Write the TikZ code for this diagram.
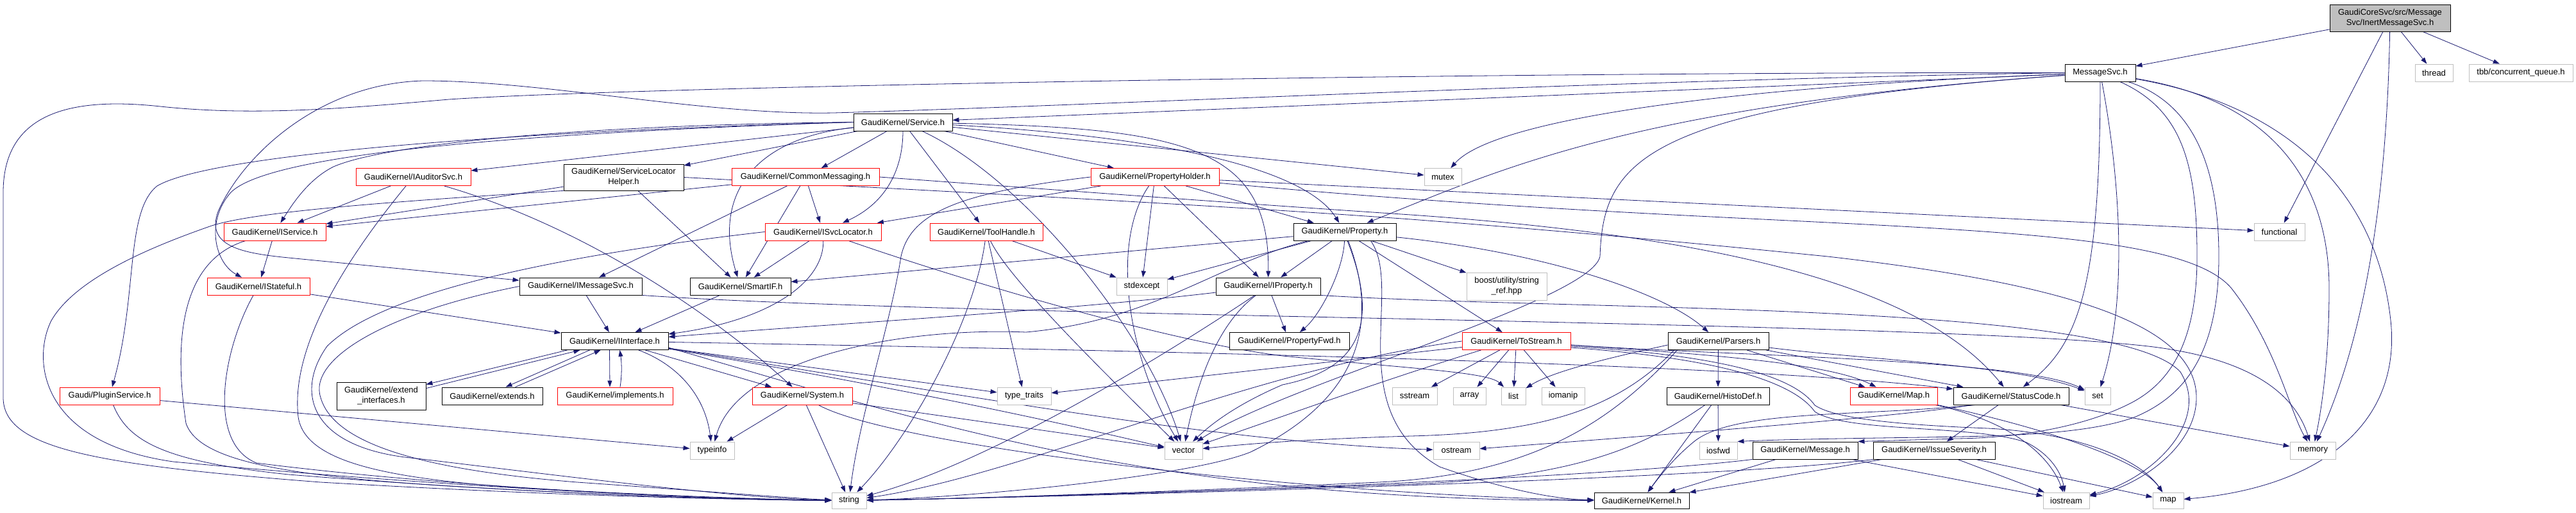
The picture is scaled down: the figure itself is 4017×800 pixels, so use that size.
\documentclass[tikz,border=0pt]{standalone}
\usepackage{fontspec}
\setmainfont{Liberation Sans}
\usetikzlibrary{arrows.meta}
\pgfdeclarelayer{bottom}
\pgfdeclarelayer{background}
\pgfsetlayers{bottom,background,main}
\definecolor{edgec}{HTML}{191970}
\definecolor{grayb}{HTML}{BFBFBF}
\definecolor{redb}{HTML}{FF0000}
\begin{document}
\begin{tikzpicture}[x=1pt,y=-1pt,
  nb/.style={fill=white, line width=0.9pt, inner sep=0pt, font=\fontsize{13}{16}\selectfont, align=center, minimum height=27pt},
  kbox/.style={nb, draw=black},
  rbox/.style={nb, draw=redb},
  gbox/.style={nb, draw=grayb},
  rootb/.style={nb, draw=black, fill=grayb},
  dep/.style={draw=edgec, line width=0.8pt, -{Triangle[length=10pt,width=7pt]}}
]
\useasboundingbox (0,0) rectangle (4017,800);
\begin{pgfonlayer}{bottom}
\fill[white] (0,0) rectangle (4017,800);
\end{pgfonlayer}

% ---------------- nodes ----------------
\node[rootb, minimum width=188pt, minimum height=42pt] (root) at (3727,28) {GaudiCoreSvc/src/Message\\Svc/InertMessageSvc.h};
\node[kbox, minimum width=110pt] (msvc) at (3275,113.5) {MessageSvc.h};
\node[gbox, minimum width=59pt] (thread) at (3795.5,113.5) {thread};
\node[gbox, minimum width=162pt] (tbb) at (3931,113.5) {tbb/concurrent\_queue.h};
\node[kbox, minimum width=154pt] (service) at (1408,190.5) {GaudiKernel/Service.h};
\node[rbox, minimum width=179pt] (iauditor) at (644.5,276) {GaudiKernel/IAuditorSvc.h};
\node[kbox, minimum width=187pt, minimum height=41pt] (slh) at (972.5,276.5) {GaudiKernel/ServiceLocator\\Helper.h};
\node[rbox, minimum width=230pt] (commsg) at (1256,276) {GaudiKernel/CommonMessaging.h};
\node[rbox, minimum width=200pt] (pholder) at (1801,276) {GaudiKernel/PropertyHolder.h};
\node[gbox, minimum width=58pt] (mutex) at (2250,276) {mutex};
\node[rbox, minimum width=159pt] (iservice) at (428.5,361.5) {GaudiKernel/IService.h};
\node[rbox, minimum width=181pt] (isvcloc) at (1283.5,361.5) {GaudiKernel/ISvcLocator.h};
\node[rbox, minimum width=176pt] (toolhandle) at (1538,361.5) {GaudiKernel/ToolHandle.h};
\node[kbox, minimum width=160pt] (property) at (2097,361.5) {GaudiKernel/Property.h};
\node[gbox, minimum width=79pt] (functional) at (3554.5,361.5) {functional};
\node[rbox, minimum width=160pt] (istateful) at (403,446.5) {GaudiKernel/IStateful.h};
\node[kbox, minimum width=191pt] (imsg) at (905.5,446.5) {GaudiKernel/IMessageSvc.h};
\node[kbox, minimum width=157pt] (smartif) at (1154.5,446.5) {GaudiKernel/SmartIF.h};
\node[gbox, minimum width=79pt] (stdexcept) at (1780.5,446.5) {stdexcept};
\node[kbox, minimum width=163pt] (iproperty) at (1977.5,446.5) {GaudiKernel/IProperty.h};
\node[gbox, minimum width=125pt, minimum height=43pt] (boost) at (2349.5,446.5) {boost/utility/string\\\_ref.hpp};
\node[kbox, minimum width=167pt] (iinterface) at (958.5,532) {GaudiKernel/IInterface.h};
\node[kbox, minimum width=187pt] (propfwd) at (2010.5,532) {GaudiKernel/PropertyFwd.h};
\node[rbox, minimum width=169pt] (tostream) at (2364.5,532) {GaudiKernel/ToStream.h};
\node[kbox, minimum width=157pt] (parsers) at (2679.5,532) {GaudiKernel/Parsers.h};
\node[rbox, minimum width=156pt] (plugin) at (171,617.5) {Gaudi/PluginService.h};
\node[kbox, minimum width=139pt, minimum height=43pt] (extif) at (594.5,617.5) {GaudiKernel/extend\\\_interfaces.h};
\node[kbox, minimum width=157pt] (extends) at (767.5,617.5) {GaudiKernel/extends.h};
\node[rbox, minimum width=180pt] (implements) at (959,617.5) {GaudiKernel/implements.h};
\node[rbox, minimum width=156pt] (system) at (1251,617.5) {GaudiKernel/System.h};
\node[gbox, minimum width=84pt] (typetraits) at (1597,617.5) {type\_traits};
\node[gbox, minimum width=70pt] (sstream) at (2206,617.5) {sstream};
\node[gbox, minimum width=51pt] (array) at (2291.5,617.5) {array};
\node[gbox, minimum width=38pt] (list) at (2360,617.5) {list};
\node[gbox, minimum width=67pt] (iomanip) at (2437.5,617.5) {iomanip};
\node[kbox, minimum width=160pt] (histodef) at (2679,617.5) {GaudiKernel/HistoDef.h};
\node[rbox, minimum width=136pt] (maph) at (2953,617.5) {GaudiKernel/Map.h};
\node[kbox, minimum width=180pt] (statuscode) at (3136,617.5) {GaudiKernel/StatusCode.h};
\node[gbox, minimum width=40pt] (set) at (3271,617.5) {set};
\node[gbox, minimum width=69pt] (typeinfo) at (1110.5,702.5) {typeinfo};
\node[gbox, minimum width=59pt] (vector) at (1845.5,702.5) {vector};
\node[gbox, minimum width=72pt] (ostream) at (2271,702.5) {ostream};
\node[gbox, minimum width=59pt] (iosfwd) at (2679.5,702.5) {iosfwd};
\node[kbox, minimum width=164pt] (message) at (2815,702.5) {GaudiKernel/Message.h};
\node[kbox, minimum width=190pt] (issue) at (3016,702.5) {GaudiKernel/IssueSeverity.h};
\node[gbox, minimum width=71pt] (memory) at (3606.5,702.5) {memory};
\node[gbox, minimum width=54pt, minimum height=25pt] (string) at (1324,780.5) {string};
\node[kbox, minimum width=148pt, minimum height=25pt] (kernel) at (2560,780.5) {GaudiKernel/Kernel.h};
\node[gbox, minimum width=72pt, minimum height=25pt] (iostream) at (3222,780.5) {iostream};
\node[gbox, minimum width=48pt, minimum height=25pt] (map) at (3381,780.5) {map};

% ---------------- edges ----------------
\begin{pgfonlayer}{background}
% root
\draw[dep] (root) -- (msvc);
\draw[dep] (root) -- (thread);
\draw[dep] (root) -- (tbb);
\draw[dep] (root) -- (functional);
\draw[dep] (root) .. controls (3722,300) and (3690,520) .. (memory);
% MessageSvc
\draw[dep] (msvc) -- (service);
\draw[dep] (msvc.west) .. controls (2300,112) and (1000,135) .. (700,155) .. controls (550,168) and (400,182) .. (250,166) .. controls (120,152) and (5,170) .. (5,300) -- (5,620) .. controls (5,700) and (150,725) .. (500,752) .. controls (900,775) and (1150,779) .. (string);
\draw[dep] (msvc.west) .. controls (2500,125) and (1700,165) .. (1300,176) .. controls (1100,180) and (850,126) .. (660,126) .. controls (500,130) and (380,240) .. (340,330) .. controls (320,385) and (380,395) .. (450,402) -- (imsg);
\draw[dep] (msvc) .. controls (2700,135) and (2330,185) .. (mutex);
\draw[dep] (msvc) .. controls (2550,165) and (2350,260) .. (property);
\draw[dep] (msvc) .. controls (2560,165) and (2500,250) .. (2495,400) .. controls (2480,470) and (2000,600) .. (vector);
\draw[dep] (msvc) .. controls (3275,450) and (3240,540) .. (statuscode);
\draw[dep] (msvc) .. controls (3310,300) and (3315,480) .. (set);
\draw[dep] (msvc) .. controls (3400,170) and (3426,250) .. (3426,400) .. controls (3426,540) and (3380,600) .. (3320,630) .. controls (3250,665) and (3150,683) .. (3050,684) -- (message.north east);
\draw[dep] (msvc) .. controls (3420,160) and (3460,260) .. (3460,400) .. controls (3460,560) and (3400,620) .. (3330,650) .. controls (3250,680) and (3100,680) .. (3000,682) .. controls (2850,684) and (2760,686) .. (iosfwd.north east);
\draw[dep] (msvc) .. controls (3560,160) and (3632,300) .. (3632,450) .. controls (3632,560) and (3620,640) .. (memory);
\draw[dep] (msvc) .. controls (3600,170) and (3710,330) .. (3728,500) .. controls (3745,660) and (3620,760) .. (map);
% Service
\draw[dep] (service) -- (iauditor);
\draw[dep] (service) -- (slh);
\draw[dep] (service) -- (commsg);
\draw[dep] (service) -- (pholder);
\draw[dep] (service) -- (toolhandle);
\draw[dep] (service) .. controls (1408,260) and (1385,315) .. (isvcloc);
\draw[dep] (service.west) .. controls (900,195) and (600,225) .. (520,260) .. controls (480,280) and (455,320) .. (iservice);
\draw[dep] (service.west) .. controls (800,208) and (420,240) .. (360,300) .. controls (320,345) and (335,410) .. (istateful);
\draw[dep] (service.west) .. controls (800,205) and (330,240) .. (245,290) .. controls (195,330) and (215,460) .. (plugin);
\draw[dep] (service) -- (mutex);
\draw[dep] (service) .. controls (1850,200) and (1980,230) .. (iproperty);
\draw[dep] (service) .. controls (1850,215) and (2040,270) .. (property);
\draw[dep] (service) .. controls (1180,215) and (1110,300) .. (smartif);
\draw[dep] (service) .. controls (1600,280) and (1790,520) .. (vector);
% IAuditorSvc
\draw[dep] (iauditor) -- (iservice);
\draw[dep] (iauditor) .. controls (510,440) and (455,560) .. (465,650) .. controls (475,720) and (600,745) .. (800,760) .. controls (1000,772) and (1200,779) .. (string);
\draw[dep] (iauditor) .. controls (900,350) and (1100,480) .. (system);
% ServiceLocatorHelper
\draw[dep] (slh) -- (iservice);
\draw[dep] (slh) -- (smartif);
\draw[dep] (slh.south west) .. controls (600,315) and (400,330) .. (330,352) .. controls (250,380) and (120,430) .. (80,500) .. controls (50,560) and (60,690) .. (270,720) .. controls (700,760) and (1100,779) .. (string);
\draw[dep] (slh.east) .. controls (1500,300) and (1900,320) .. (2200,342) .. controls (2500,365) and (2700,385) .. (2850,400) .. controls (3200,440) and (3425,500) .. (3425,620) .. controls (3425,700) and (3330,760) .. (iostream);
% CommonMessaging
\draw[dep] (commsg) -- (imsg);
\draw[dep] (commsg) -- (smartif);
\draw[dep] (commsg) -- (isvcloc);
\draw[dep] (commsg) -- (iservice);
\draw[dep] (commsg.east) .. controls (1700,300) and (1900,315) .. (2200,335) .. controls (2700,370) and (3000,450) .. (statuscode);
% ISvcLocator
\draw[dep] (isvcloc) -- (smartif);
\draw[dep] (isvcloc) .. controls (1285,440) and (1200,500) .. (iinterface);
\draw[dep] (isvcloc.west) .. controls (900,395) and (600,450) .. (510,540) .. controls (460,610) and (480,700) .. (650,715) .. controls (900,745) and (1150,777) .. (string);
\draw[dep] (isvcloc) .. controls (1450,420) and (1800,530) .. (2000,555) .. controls (2200,575) and (2320,580) .. (list);
% IService
\draw[dep] (iservice) -- (istateful);
\draw[dep] (iservice) .. controls (270,410) and (275,560) .. (290,660) .. controls (310,720) and (450,742) .. (700,758) .. controls (1000,776) and (1200,780) .. (string);
% IStateful
\draw[dep] (istateful) -- (iinterface);
\draw[dep] (istateful) .. controls (350,540) and (320,690) .. (400,722) .. controls (700,760) and (1100,779) .. (string);
% PluginService
\draw[dep] (plugin) -- (typeinfo);
\draw[dep] (plugin) .. controls (200,690) and (260,720) .. (450,740) .. controls (800,768) and (1100,779) .. (string);
% IMessageSvc
\draw[dep] (imsg) -- (iinterface);
\draw[dep] (imsg.west) .. controls (600,488) and (480,560) .. (500,620) .. controls (520,690) and (650,732) .. (900,752) .. controls (1100,766) and (1250,778) .. (string);
\draw[dep] (imsg.south east) .. controls (1500,495) and (3000,500) .. (3350,540) .. controls (3520,560) and (3580,620) .. (memory);
% SmartIF
\draw[dep] (smartif) -- (iinterface);
% IInterface
\draw[dep] ([xshift=10pt]iinterface.south west) -- ([yshift=-4pt]extif.north east);
\draw[dep] ([yshift=-10pt]extif.north east) -- ([xshift=30pt]iinterface.south west);
\draw[dep] ([xshift=45pt]iinterface.south west) -- ([xshift=100pt]extends.north west);
\draw[dep] ([xshift=115pt]extends.north west) -- ([xshift=62pt]iinterface.south west);
\draw[dep] ([xshift=-8pt]iinterface.south) -- ([xshift=-8pt]implements.north);
\draw[dep] ([xshift=8pt]implements.north) .. controls ([xshift=11pt,yshift=20pt]implements.north) and ([xshift=11pt,yshift=-20pt]iinterface.south) .. ([xshift=8pt]iinterface.south);
\draw[dep] (iinterface) -- (system);
\draw[dep] (iinterface) .. controls (1060,570) and (1100,620) .. (typeinfo);
\draw[dep] (iinterface) -- (typetraits);
\draw[dep] ([yshift=-10pt]iinterface.east) .. controls (1450,660) and (1800,780) .. (kernel);
\draw[dep] ([yshift=-12pt]iinterface.east) .. controls (1500,620) and (1780,690) .. (vector);
\draw[dep] ([yshift=-11pt]iinterface.east) .. controls (1500,615) and (1900,690) .. (ostream);
\draw[dep] (iinterface) .. controls (1700,545) and (2700,565) .. (statuscode);
% System
\draw[dep] (system) -- (typeinfo);
\draw[dep] (system) -- (string);
\draw[dep] (system) .. controls (1400,700) and (2100,775) .. (kernel);
\draw[dep] (system) -- (vector);
% ToolHandle
\draw[dep] (toolhandle) -- (typetraits);
\draw[dep] (toolhandle) -- (stdexcept);
\draw[dep] (toolhandle) .. controls (1570,430) and (1700,560) .. (vector);
\draw[dep] (toolhandle) .. controls (1520,500) and (1420,680) .. (string);
% PropertyHolder
\draw[dep] (pholder) -- (isvcloc);
\draw[dep] (pholder.west) .. controls (1500,300) and (1420,330) .. (1405,400) .. controls (1390,500) and (1340,650) .. (string);
\draw[dep] (pholder) -- (stdexcept);
\draw[dep] (pholder) -- (iproperty);
\draw[dep] (pholder) .. controls (1730,380) and (1760,560) .. (vector);
\draw[dep] (pholder) -- (property);
\draw[dep] (pholder) -- (functional);
\draw[dep] (pholder) .. controls (2800,370) and (3380,330) .. (3480,450) .. controls (3550,540) and (3570,640) .. (memory);
% Property
\draw[dep] (property) -- (iproperty);
\draw[dep] (property) .. controls (2095,420) and (2060,490) .. (propfwd);
\draw[dep] (property) -- (boost);
\draw[dep] (property) -- (tostream);
\draw[dep] (property) .. controls (2420,395) and (2600,460) .. (parsers);
\draw[dep] ([xshift=-40pt]property.south east) .. controls (2190,450) and (2090,640) .. (2245,728) .. controls (2350,765) and (2430,779) .. (kernel);
\draw[dep] (property) .. controls (2150,500) and (2125,620) .. (1950,705) .. controls (1850,745) and (1500,776) .. (string);
\draw[dep] ([xshift=4pt]property.south) .. controls (2150,500) and (2125,575) .. (2000,600) .. controls (1930,630) and (1890,660) .. (vector);
\draw[dep] (property) -- (stdexcept);
\draw[dep] (property) .. controls (1900,410) and (1800,500) .. (1600,518) .. controls (1400,510) and (1150,560) .. (typeinfo);
\draw[dep] (property) -- (smartif);
% IProperty
\draw[dep] (iproperty) .. controls (1650,485) and (1300,505) .. (iinterface);
\draw[dep] (iproperty) -- (propfwd);
\draw[dep] (iproperty) .. controls (1905,500) and (1870,580) .. (vector);
\draw[dep] (iproperty) .. controls (1830,545) and (1550,720) .. (string);
\draw[dep] (iproperty.south east) .. controls (2450,485) and (3300,470) .. (3400,580) .. controls (3450,660) and (3350,750) .. (iostream);
% ToStream
\draw[dep] (tostream) -- (sstream);
\draw[dep] (tostream) -- (array);
\draw[dep] (tostream) -- (list);
\draw[dep] (tostream) -- (iomanip);
\draw[dep] (tostream.west) .. controls (1950,575) and (1600,740) .. (string);
\draw[dep] ([xshift=30pt]tostream.south west) .. controls (2150,595) and (2000,650) .. (vector);
\draw[dep] (tostream) -- (typetraits);
\draw[dep] ([yshift=-6pt]tostream.east) .. controls (2650,552) and (2850,565) .. (maph);
\draw[dep] ([yshift=-6pt]tostream.east) .. controls (2700,555) and (3150,560) .. (set);
\draw[dep] ([yshift=-8pt]tostream.east) .. controls (2700,555) and (2800,590) .. (2830,632) .. controls (2860,652) and (2950,662) .. (3100,668) .. controls (3250,676) and (3340,720) .. (map);
\draw[dep] ([yshift=-10pt]tostream.east) .. controls (2700,560) and (2800,600) .. (2830,642) .. controls (2880,675) and (3080,662) .. (3160,690) .. controls (3200,710) and (3215,740) .. (iostream);
% Parsers
\draw[dep] (parsers) -- (histodef);
\draw[dep] (parsers) -- (maph);
\draw[dep] (parsers) -- (statuscode);
\draw[dep] (parsers) .. controls (2900,560) and (3150,570) .. (set);
\draw[dep] ([yshift=-6pt]parsers.west) .. controls (2500,560) and (2420,580) .. (list);
\draw[dep] ([xshift=15pt]parsers.south west) .. controls (2520,650) and (2400,740) .. (2150,752) .. controls (1800,768) and (1500,778) .. (string);
\draw[dep] ([xshift=10pt]parsers.south west) .. controls (2520,640) and (2400,675) .. (2200,680) .. controls (2000,686) and (1920,695) .. (vector);
% HistoDef
\draw[dep] (histodef) -- (iosfwd);
\draw[dep] (histodef) -- (kernel);
\draw[dep] (histodef) .. controls (2560,700) and (2450,745) .. (2200,755) .. controls (1800,768) and (1500,778) .. (string);
% Map.h
\draw[dep] (maph) .. controls (3150,660) and (3200,720) .. (iostream);
\draw[dep] (maph.south east) .. controls (3200,670) and (3340,720) .. (map);
% StatusCode
\draw[dep] (statuscode) -- (issue);
\draw[dep] ([xshift=30pt]statuscode.south west) .. controls (2950,652) and (2500,685) .. (ostream);
\draw[dep] ([xshift=35pt]statuscode.south west) .. controls (2900,650) and (2700,638) .. (2640,690) .. controls (2610,715) and (2590,740) .. (kernel);
\draw[dep] (statuscode) -- (memory);
% IssueSeverity
\draw[dep] (issue) -- (kernel);
\draw[dep] (issue.south west) .. controls (2700,745) and (1800,772) .. (string);
\draw[dep] (issue) -- (iostream);
\draw[dep] (issue) -- (map);
% Message
\draw[dep] (message) -- (kernel);
\draw[dep] (message.south west) .. controls (2500,745) and (1800,772) .. (string);
\draw[dep] (message) -- (iostream);
\end{pgfonlayer}
\end{tikzpicture}
\end{document}
